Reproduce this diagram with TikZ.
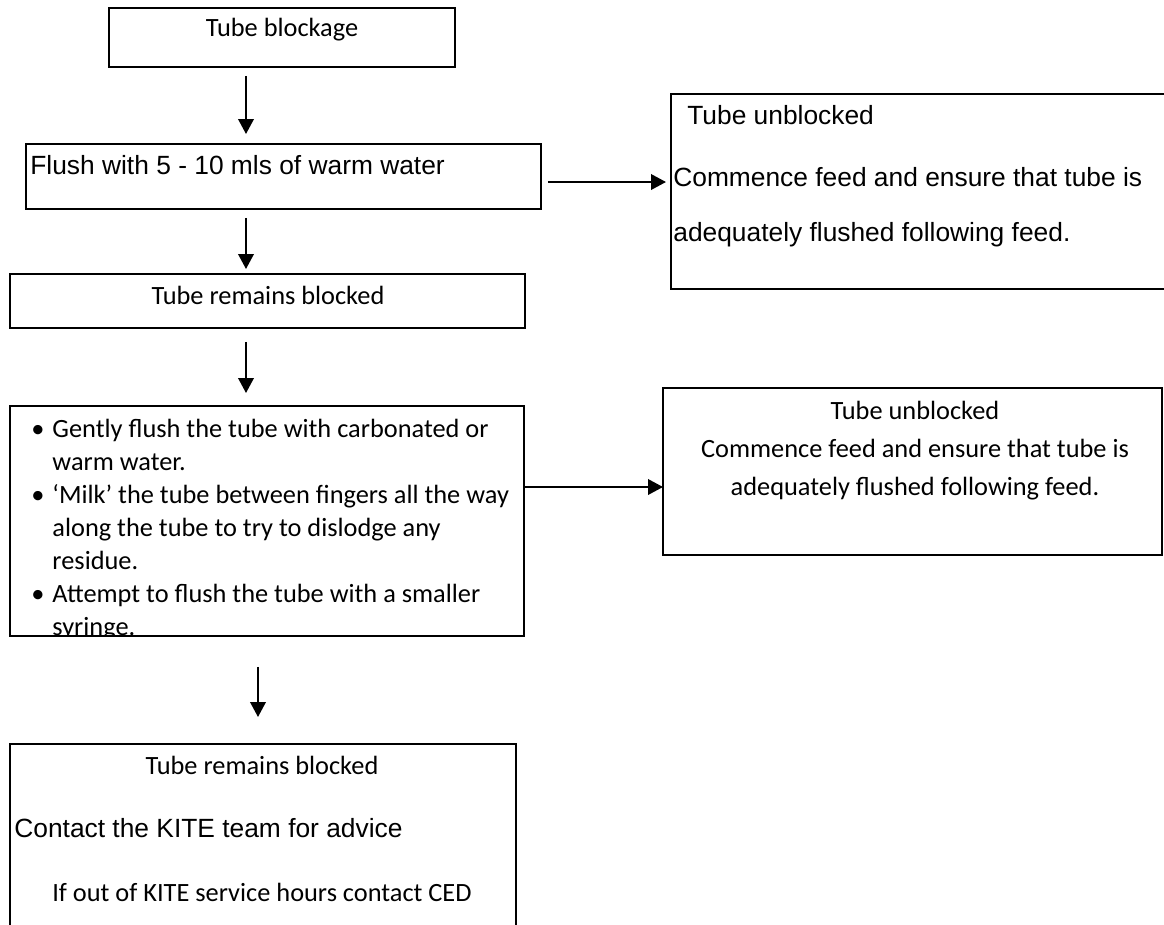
\documentclass[tikz,border=0pt]{standalone}
\usepackage{fontspec}
\setmainfont{Carlito}
\newfontfamily\arialfont{Liberation Sans}
\usetikzlibrary{arrows.meta}

\begin{document}
\begin{tikzpicture}[x=0.02cm,y=-0.02cm]
\tikzset{
  box/.style={draw,line width=1.1pt,inner sep=0pt,outer sep=0pt,anchor=north west},
  txt/.style={inner sep=0pt,font=\fontsize{15}{18.8}\selectfont},
  arialtxt/.style={inner sep=0pt,anchor=west,font=\arialfont\fontsize{15}{20}\selectfont},
  flow/.style={-{Triangle[length=3mm,width=3.1mm]},line width=1.2pt}
}
\useasboundingbox[fill=white] (0,0) rectangle (1164,924);
\coordinate (c_spine) at (246,0);
\coordinate (c_spinelow) at (258,0);
\coordinate (c_row1) at (0,182);
\coordinate (c_row2) at (0,487);
% boxes
\node[box,minimum width=6.92cm,minimum height=1.18cm] (n_blockage) at (109,8) {};
\node[box,minimum width=10.30cm,minimum height=1.30cm] (n_flush) at (26,144) {};
\node[box,minimum width=10.00cm,minimum height=3.90cm] (n_unblockA) at (671,94) {};
\node[box,minimum width=10.30cm,minimum height=1.08cm] (n_remains) at (10,274) {};
\node[box,minimum width=10.28cm,minimum height=4.60cm] (n_steps) at (10,406) {};
\node[box,minimum width=9.98cm,minimum height=3.34cm] (n_unblockB) at (663,388) {};
\node[box,minimum width=10.12cm,minimum height=4.00cm] (n_advice) at (10,744) {};
% texts
\node[txt] (t_blockage) at (282,30) {Tube blockage};
\node[arialtxt] (t_flush) at (30,165) {Flush with 5 - 10 mls of warm water};
\node[arialtxt] (t_unblockA) at (687,115) {Tube unblocked};
\node[arialtxt] (t_commenceA) at (673,177) {Commence feed and ensure that tube is};
\node[arialtxt] (t_adequateA) at (673,235) {adequately flushed following feed.};
\node[txt] (t_remains) at (268,295) {Tube remains blocked};
\begin{scope}
  \clip (n_steps.north west) rectangle (n_steps.south east);
  \node[txt,anchor=north west] (t_steps) at (31,414) {%
    \begin{tabular}{@{}l@{\hspace{0.16cm}}l@{}}
    \textbullet & Gently flush the tube with carbonated or\\
                & warm water.\\
    \textbullet & ‘Milk’ the tube between fingers all the way\\
                & along the tube to try to dislodge any\\
                & residue.\\
    \textbullet & Attempt to flush the tube with a smaller\\
                & syringe.
    \end{tabular}};
\end{scope}
\node[txt,font=\fontsize{15}{21.6}\selectfont,align=center,anchor=north] (t_unblockB) at (915,401)
  {Tube unblocked\\Commence feed and ensure that tube is\\adequately flushed following feed.};
\node[txt] (t_remainsB) at (262,765) {Tube remains blocked};
\node[arialtxt] (t_contact) at (14,828) {Contact the KITE team for advice};
\node[txt,anchor=west] (t_hours) at (52,892) {If out of KITE service hours contact CED};
% arrows
\draw[flow,shorten <=0.18cm,shorten >=0.20cm] (n_blockage.south -| c_spine) -- (n_flush.north -| c_spine);
\draw[flow,shorten <=0.18cm,shorten >=0.10cm] (n_flush.south -| c_spine) -- (n_remains.north -| c_spine);
\draw[flow,shorten <=0.28cm,shorten >=0.26cm] (n_remains.south -| c_spine) -- (n_steps.north -| c_spine);
\draw[flow,shorten <=0.62cm,shorten >=0.54cm] (n_steps.south -| c_spinelow) -- (n_advice.north -| c_spinelow);
\draw[flow,shorten <=0.14cm,shorten >=0.10cm] (n_flush.east |- c_row1) -- (n_unblockA.west |- c_row1);
\draw[flow] (n_steps.east |- c_row2) -- (n_unblockB.west |- c_row2);
\end{tikzpicture}
\end{document}
